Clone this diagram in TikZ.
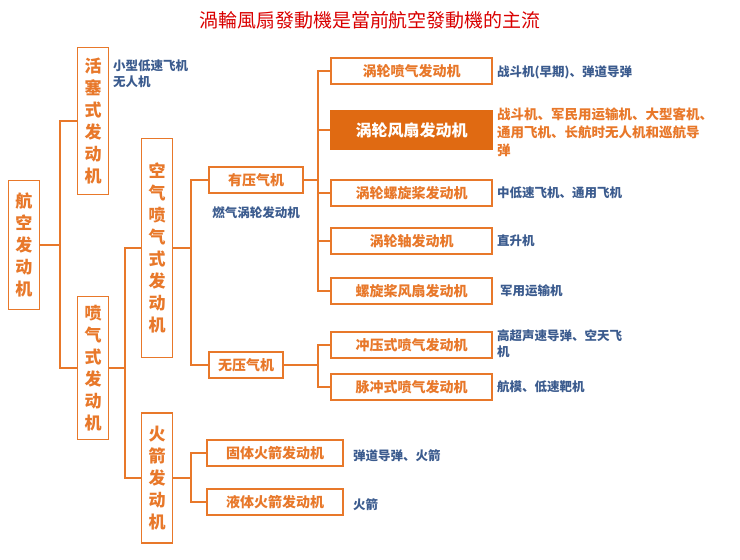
\documentclass[tikz,border=0pt]{standalone}
\usepackage{fontspec}
\setmainfont{Noto Sans CJK SC}
\newfontfamily\tcfont{Noto Sans CJK TC}
\begin{document}
\begin{tikzpicture}[x=1pt,y=-1pt,
  orng/.style={draw=orange1,line width=1.4pt},
  vbox/.style={orng,fill=white,minimum width=31pt,align=center,text=orange1,font=\fontsize{17}{22}\selectfont\bfseries,inner sep=0pt},
  hbox/.style={orng,fill=white,minimum height=26pt,text=orange1,font=\fontsize{14}{16}\selectfont\bfseries,inner sep=0pt},
  lbl/.style={anchor=west,text=blue1,font=\fontsize{12.5}{16}\selectfont\bfseries,align=left,inner sep=0pt},
  ln/.style={draw=orange1,line width=1.4pt}]
\definecolor{orange1}{HTML}{E8782A}
\definecolor{orange2}{HTML}{E06A12}
\definecolor{blue1}{HTML}{3B5B8E}
\useasboundingbox (0,0) rectangle (740,560);
\node[text=red!85!black,font=\tcfont\fontsize{19}{22}\selectfont] (title) at (370,20) {渦輪風扇發動機是當前航空發動機的主流};
\node[vbox,minimum height=129pt] (hk) at (24,245) {航\\空\\发\\动\\机};
\node[vbox,minimum height=147pt] (hs) at (93,121) {活\\塞\\式\\发\\动\\机};
\node[vbox,minimum height=143pt] (pq) at (93,368) {喷\\气\\式\\发\\动\\机};
\node[vbox,minimum height=219pt] (kq) at (157,248) {空\\气\\喷\\气\\式\\发\\动\\机};
\node[vbox,minimum height=130pt] (hj) at (157,478) {火\\箭\\发\\动\\机};
\node[hbox,minimum width=94pt] (yy) at (256,180) {有压气机};
\node[hbox,minimum width=74pt] (wy) at (246,365) {无压气机};
\node[text=blue1,font=\fontsize{12.5}{15}\selectfont\bfseries] (rq) at (256,213) {燃气涡轮发动机};
\node[hbox,minimum width=161pt] (r1) at (411.5,71) {涡轮喷气发动机};
\node[hbox,minimum width=161pt,minimum height=39pt,fill=orange2,draw=orange2,text=white,font=\fontsize{16}{18}\selectfont\bfseries] (r2) at (411.5,130) {涡轮风扇发动机};
\node[hbox,minimum width=161pt] (r3) at (411.5,193) {涡轮螺旋桨发动机};
\node[hbox,minimum width=161pt] (r4) at (411.5,241) {涡轮轴发动机};
\node[hbox,minimum width=161pt] (r5) at (411.5,291) {螺旋桨风扇发动机};
\node[hbox,minimum width=161pt] (r6) at (411.5,345) {冲压式喷气发动机};
\node[hbox,minimum width=161pt] (r7) at (411.5,387) {脉冲式喷气发动机};
\node[hbox,minimum width=136pt] (g1) at (275,453) {固体火箭发动机};
\node[hbox,minimum width=136pt] (g2) at (275,502) {液体火箭发动机};
% labels
\node[lbl] (l0) at (113,74) {小型低速飞机\\无人机};
\node[lbl] (l1) at (497,72) {战斗机(早期)、弹道导弹};
\node[lbl,text=orange1,font=\fontsize{13.5}{18}\selectfont\bfseries] (l2) at (497,132) {战斗机、军民用运输机、大型客机、\\通用飞机、长航时无人机和巡航导\\弹};
\node[lbl] (l3) at (497,193) {中低速飞机、通用飞机};
\node[lbl] (l4) at (497,241) {直升机};
\node[lbl] (l5) at (500,291) {军用运输机};
\node[lbl] (l6) at (497,344) {高超声速导弹、空天飞\\机};
\node[lbl] (l7) at (497,387) {航模、低速靶机};
\node[lbl] (l8) at (353,456) {弹道导弹、火箭};
\node[lbl] (l9) at (353,505) {火箭};
% connectors
\draw[ln] (hk.east) -- (60,245);
\draw[ln] (hs.west) -| (60,245) |- (pq.west);
\draw[ln] (pq.east) -- (125,368);
\draw[ln] (kq.west) -| (125,368) |- (hj.west);
\draw[ln] (kq.east) -- (191,248);
\draw[ln] (yy.west) -| (191,248) |- (wy.west);
\draw[ln] (hj.east) -- (191,478);
\draw[ln] (g1.west) -| (191,478) |- (g2.west);
\draw[ln] (yy.east) -- (318,180);
\foreach \n in {r1,r2,r3,r4} \draw[ln] (\n.west) -| (318,180);
\draw[ln] (r5.west) -| (318,180);
\draw[ln] (wy.east) -- (318,365);
\draw[ln] (r6.west) -| (318,365) |- (r7.west);
\end{tikzpicture}
\end{document}
